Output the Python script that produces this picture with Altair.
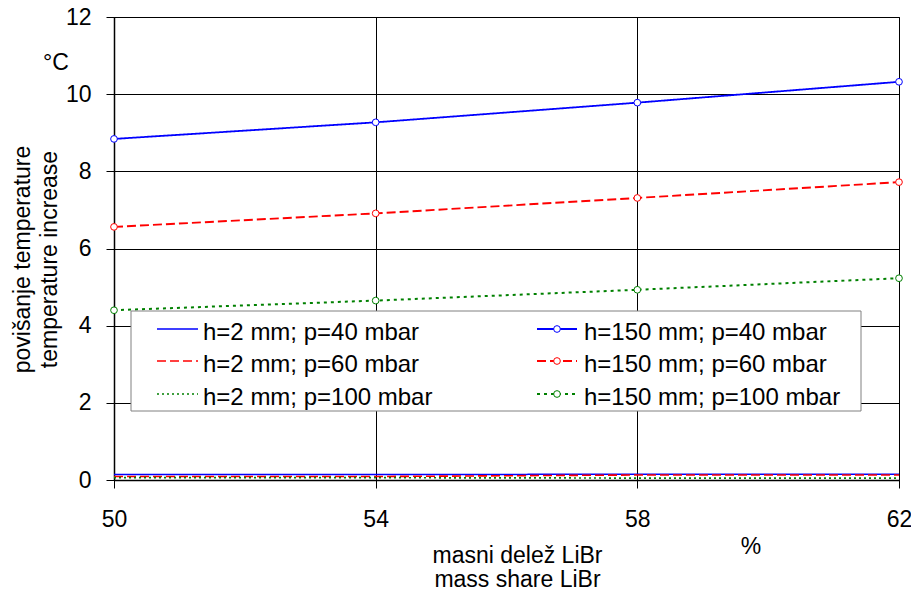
import altair as alt
import pandas as pd

# ---- data ----
pct = [50, 54, 58, 62]
series_names = [
    "h=2 mm; p=40 mbar", "h=2 mm; p=60 mbar", "h=2 mm; p=100 mbar",
    "h=150 mm; p=40 mbar", "h=150 mm; p=60 mbar", "h=150 mm; p=100 mbar",
]
h2_p40 = [0.14, 0.14, 0.15, 0.15]
h2_p60 = [0.09, 0.09, 0.13, 0.13]
h2_p100 = [0.06, 0.06, 0.05, 0.05]
h150_p40 = [8.84, 9.27, 9.78, 10.32]
h150_p60 = [6.56, 6.91, 7.31, 7.72]
h150_p100 = [4.40, 4.65, 4.93, 5.23]
x_ticks = [50, 54, 58, 62]
y_ticks = [0, 2, 4, 6, 8, 10, 12]

# ---- styles ----
colors = ["#0000FF", "#FF0000", "#008000", "#0000FF", "#FF0000", "#008000"]
dashes = [[1, 0], [9, 4], [2, 3], [1, 0], [9, 4], [3, 4]]
widths = [1.5, 2, 2, 1, 1, 1.2]
FONT = "Liberation Sans"

all_vals = [h2_p40, h2_p60, h2_p100, h150_p40, h150_p60, h150_p100]
rows = []
for name, vals in zip(series_names, all_vals):
    for p, v in zip(pct, vals):
        rows.append({"pct": p, "val": v, "series": name,
                     "marker": name.startswith("h=150")})
df = pd.DataFrame(rows)

color_enc = alt.Color("series:N", scale=alt.Scale(domain=series_names, range=colors), legend=None)
dash_enc = alt.StrokeDash("series:N", scale=alt.Scale(domain=series_names, range=dashes), legend=None)
width_enc = alt.StrokeWidth("series:N", scale=alt.Scale(domain=series_names, range=widths), legend=None)

x_enc = alt.X("pct:Q",
              scale=alt.Scale(domain=[50, 62], nice=False, zero=False),
              axis=alt.Axis(values=x_ticks, format="d", tickSize=8, labelPadding=20,
                            labelFlush=False, labelOverlap=False,
                            title=["masni delež LiBr", "mass share LiBr"],
                            titleX=403, titleY=64, titleAlign="center",
                            titleBaseline="top", titleLineHeight=24))
y_enc = alt.Y("val:Q",
              scale=alt.Scale(domain=[0, 12], nice=False),
              axis=alt.Axis(values=y_ticks, format="d", tickSize=8, labelPadding=15,
                            labelFlush=False, labelOverlap=False,
                            title=["povišanje temperature", "temperature increase"],
                            titleAngle=270, titleX=-103, titleY=242,
                            titleAlign="center", titleBaseline="top",
                            titleLineHeight=27))

lines = alt.Chart(df).mark_line().encode(
    x=x_enc, y=y_enc, color=color_enc, strokeDash=dash_enc, strokeWidth=width_enc
)
points = alt.Chart(df).transform_filter("datum.marker").mark_point(
    shape="circle", filled=False, fill="white", size=45, strokeWidth=1, opacity=1
).encode(x="pct:Q", y="val:Q", color=color_enc)

# ---- legend (drawn inside the plot, two columns) ----
leg_rows = []
for i, name in enumerate(series_names):
    col = i // 3
    r = i % 3
    ly = [312, 344, 377][r]
    if col == 0:
        x0, x1, tx = 43, 84, 89
    else:
        x0, x1, tx = 423, 463, 470
    leg_rows.append({"series": name, "lx0": x0, "lx1": x1, "ly": ly,
                     "cx": (x0 + x1) / 2, "tx": tx, "ty": ly + 11,
                     "marker": col == 1})
leg = pd.DataFrame(leg_rows)
box = pd.DataFrame([{"bx0": 17, "bx1": 747, "by0": 294, "by1": 394}])

leg_box = alt.Chart(box).mark_rect(fill="white", stroke="#808080", strokeWidth=1).encode(
    x=alt.X("bx0:Q", scale=None, axis=None), x2="bx1:Q",
    y=alt.Y("by0:Q", scale=None, axis=None), y2="by1:Q")
leg_lines = alt.Chart(leg).mark_rule().encode(
    x=alt.X("lx0:Q", scale=None, axis=None), x2="lx1:Q",
    y=alt.Y("ly:Q", scale=None, axis=None),
    color=color_enc, strokeDash=dash_enc, strokeWidth=width_enc)
leg_pts = alt.Chart(leg).transform_filter("datum.marker").mark_point(
    shape="circle", filled=False, fill="white", size=45, strokeWidth=1, opacity=1
).encode(x=alt.X("cx:Q", scale=None, axis=None), y=alt.Y("ly:Q", scale=None, axis=None),
         color=color_enc)
leg_text = alt.Chart(leg).mark_text(
    align="left", baseline="alphabetic", font=FONT, fontSize=24, color="black"
).encode(x=alt.X("tx:Q", scale=None, axis=None), y=alt.Y("ty:Q", scale=None, axis=None),
         text="series:N")

unit_c = alt.Chart(pd.DataFrame({"t": ["°C"]})).mark_text(
    font=FONT, fontSize=23, color="black", align="center", baseline="middle"
).encode(x=alt.value(-58), y=alt.value(46), text="t:N")
unit_p = alt.Chart(pd.DataFrame({"t": ["%"]})).mark_text(
    font=FONT, fontSize=23, color="black", align="center", baseline="middle"
).encode(x=alt.value(637), y=alt.value(530), text="t:N")

chart = alt.layer(
    lines, points, leg_box, leg_lines, leg_pts, leg_text, unit_c, unit_p
).properties(
    width=785, height=463,
    background="white",
    autosize=alt.AutoSizeParams(type="none"),
    padding={"left": 106, "top": 9, "right": 12, "bottom": 107},
).configure_view(
    stroke="black", strokeWidth=1
).configure_axis(
    labelFont=FONT, labelFontSize=23, labelColor="black",
    titleFont=FONT, titleFontSize=23, titleColor="black", titleFontWeight="normal",
    domainColor="black", domainWidth=1.5, tickColor="black", tickWidth=1,
    gridColor="black", gridWidth=1, gridOpacity=1,
)

chart.save("out.html", embed_options={"renderer": "svg", "actions": False})
